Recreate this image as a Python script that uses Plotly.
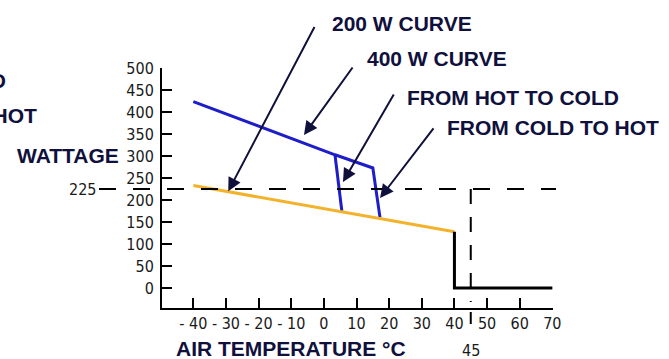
import plotly.graph_objects as go

# ---------------- data ----------------
x_ticks = [-40, -30, -20, -10, 0, 10, 20, 30, 40, 50, 60, 70]
x_ticktext = ["- 40", "- 30", "- 20", "- 10", "0", "10", "20", "30", "40", "50", "60", "70"]
y_ticks = [0, 50, 100, 150, 200, 250, 300, 350, 400, 450, 500]

# 400 W curve (cold -> hot path down at ~15-17 °C)
w400_x = [-40, 3.4, 15.0, 17.2]
w400_y = [424, 303, 273, 160]
# 400 W hot -> cold drop
hot_to_cold_x = [3.4, 5.5]
hot_to_cold_y = [303, 175]
# 200 W curve
w200_x = [-40, 40]
w200_y = [233, 128]
# cut-off above 40 °C
cutoff_x = [40, 40, 70]
cutoff_y = [128, 0, 0]

ref_wattage = 225
ref_temp = 45

# arrow heads / tails (data units)
arrow_head_x = [-29.3, -6.1, 5.85, 17.2]
arrow_head_y = [220, 348, 241, 204.6]
arrow_tail_x = [-2.8, 8.9, 21.5, 33.7]
arrow_tail_y = [595, 502.8, 441.3, 364]

labels = ["200 W CURVE", "400 W CURVE", "FROM HOT TO COLD", "FROM COLD TO HOT"]

X_RANGE = [-49.6, 70.2]
Y_RANGE = [-45.7, 500.5]

# ---------------- layout helpers ----------------
W, H = 669, 359
L, R, T, B = 162, 116, 68, 51
PW, PH = W - L - R, H - T - B


def px_x(px):
    return (px - L) / PW


def px_y(py):
    return (H - B - py) / PH


def x_frac(v):
    return (v - X_RANGE[0]) / (X_RANGE[1] - X_RANGE[0])


NAVY = "#10103c"
BLUE = "#1e1ec8"
GOLD = "#f2b22c"
TXT_FONT = dict(family="Liberation Sans, Arial, sans-serif", size=21, color=NAVY, weight="bold")
TICK_FONT = dict(family="Liberation Sans Narrow, DejaVu Sans Condensed, Roboto, sans-serif", size=16, color="#1a1a1a")
BARE = dict(text="", font=dict(size=1), width=1, height=1, borderpad=0, borderwidth=0,
            showarrow=True, standoff=0)

fig = go.Figure()
fig.add_trace(go.Scatter(x=w400_x, y=w400_y, mode="lines", line=dict(color=BLUE, width=3)))
fig.add_trace(go.Scatter(x=hot_to_cold_x, y=hot_to_cold_y, mode="lines", line=dict(color=BLUE, width=3)))
fig.add_trace(go.Scatter(x=w200_x, y=w200_y, mode="lines", line=dict(color=GOLD, width=3)))
fig.add_trace(go.Scatter(x=cutoff_x, y=cutoff_y, mode="lines", line=dict(color="black", width=3)))

# reference dashed lines
fig.add_shape(type="line", xref="paper", yref="y", x0=px_x(99), x1=px_x(556),
              y0=ref_wattage, y1=ref_wattage, line=dict(color="black", width=2, dash="17px,17px"))
fig.add_shape(type="line", xref="x", yref="y", x0=ref_temp, x1=ref_temp,
              y0=ref_wattage, y1=-32, line=dict(color="black", width=2, dash="15px,13px"))
# 45 °C tick below the axis line
fig.add_shape(type="line", xref="paper", yref="paper", x0=x_frac(ref_temp), x1=x_frac(ref_temp),
              y0=px_y(312), y1=px_y(324), line=dict(color="black", width=2))

ann = []
# arrows
for hx, hy, tx, ty in zip(arrow_head_x, arrow_head_y, arrow_tail_x, arrow_tail_y):
    ann.append(dict(x=hx, y=hy, xref="x", yref="y", ax=tx, ay=ty, axref="x", ayref="y",
                    arrowhead=2, arrowsize=1.35, arrowwidth=2, arrowcolor=NAVY, **BARE))
# callout texts
text_pos = [(330, 23), (365, 58.5), (405, 97), (445, 127)]
for t, (px, py) in zip(labels, text_pos):
    ann.append(dict(x=px_x(px), y=px_y(py), xref="paper", yref="paper", text=t, showarrow=False,
                    xanchor="left", yanchor="middle", font=TXT_FONT))
# cut-off texts at the left edge (as in the reference)
ann.append(dict(x=px_x(8), y=px_y(80), xref="paper", yref="paper", text=labels[2], showarrow=False,
                xanchor="right", yanchor="middle", font=TXT_FONT))
ann.append(dict(x=px_x(39), y=px_y(116), xref="paper", yref="paper", text=labels[3], showarrow=False,
                xanchor="right", yanchor="middle", font=TXT_FONT))
# axis titles
ann.append(dict(x=px_x(121), y=px_y(155), xref="paper", yref="paper", text="WATTAGE", showarrow=False,
                xanchor="right", yanchor="middle", font=TXT_FONT))
ann.append(dict(x=px_x(174), y=px_y(348), xref="paper", yref="paper", text="AIR TEMPERATURE °C",
                showarrow=False, xanchor="left", yanchor="middle", font=TXT_FONT))
# reference values
ann.append(dict(x=px_x(98), y=ref_wattage, xref="paper", yref="y", text=str(ref_wattage), showarrow=False,
                xanchor="right", yanchor="middle", font=TICK_FONT))
ann.append(dict(x=ref_temp, y=px_y(350), xref="x", yref="paper", text=str(ref_temp), showarrow=False,
                xanchor="center", yanchor="middle", font=TICK_FONT))

fig.update_layout(
    width=W, height=H, margin=dict(l=L, r=R, t=T, b=B),
    plot_bgcolor="white", paper_bgcolor="white", showlegend=False,
    annotations=ann,
    xaxis=dict(range=X_RANGE, tickvals=x_ticks, ticktext=x_ticktext, ticks="inside",
               ticklen=10, tickwidth=2, tickcolor="black", showline=True, linewidth=2,
               linecolor="black", showgrid=False, zeroline=False, tickfont=TICK_FONT),
    yaxis=dict(range=Y_RANGE, tickvals=y_ticks, ticks="inside", ticklen=10, tickwidth=2,
               tickcolor="black", showline=True, linewidth=2, linecolor="black", showgrid=False,
               zeroline=False, tickfont=TICK_FONT, ticklabelstandoff=3),
)

fig.write_html(
    "out.html",
    config={"displayModeBar": False},
    post_script="document.body.style.margin='0';document.body.style.overflow='hidden';",
)
